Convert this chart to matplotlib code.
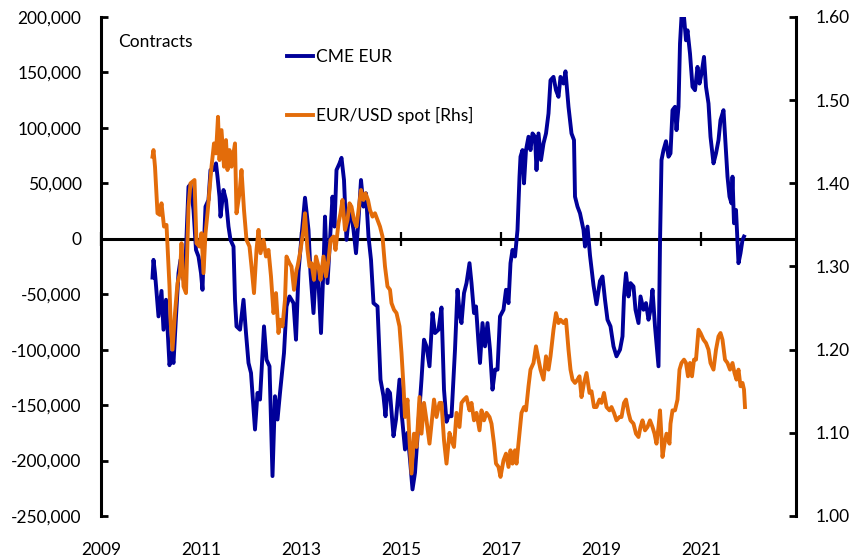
import matplotlib
matplotlib.use('Agg')
import matplotlib.pyplot as plt
from matplotlib import font_manager
from matplotlib.ticker import FuncFormatter, MultipleLocator

# CME EUR net positions (contracts)
cme_years = [2010.03, 2010.05, 2010.08, 2010.15, 2010.21, 2010.25, 2010.30, 2010.37, 2010.41, 2010.45,
             2010.50, 2010.55, 2010.59, 2010.65, 2010.70, 2010.75, 2010.79, 2010.85, 2010.90, 2010.95,
             2011.00, 2011.03, 2011.06, 2011.09, 2011.15, 2011.19, 2011.25, 2011.30, 2011.33, 2011.37,
             2011.39, 2011.45, 2011.50, 2011.55, 2011.59, 2011.65, 2011.68, 2011.71, 2011.78, 2011.85,
             2011.90, 2011.95, 2012.00, 2012.08, 2012.13, 2012.18, 2012.26, 2012.31, 2012.37, 2012.43,
             2012.48, 2012.53, 2012.58, 2012.66, 2012.71, 2012.77, 2012.85, 2012.90, 2012.95, 2013.01,
             2013.08, 2013.15, 2013.19, 2013.25, 2013.30, 2013.35, 2013.40, 2013.45, 2013.48, 2013.53,
             2013.58, 2013.63, 2013.67, 2013.71, 2013.77, 2013.81, 2013.86, 2013.91, 2013.98, 2014.05,
             2014.10, 2014.15, 2014.20, 2014.25, 2014.30, 2014.35, 2014.40, 2014.45, 2014.53, 2014.59,
             2014.65, 2014.69, 2014.73, 2014.78, 2014.85, 2014.90, 2014.97, 2015.01, 2015.08, 2015.13,
             2015.18, 2015.23, 2015.28, 2015.35, 2015.41, 2015.46, 2015.51, 2015.57, 2015.63, 2015.68,
             2015.75, 2015.81, 2015.86, 2015.91, 2015.95, 2016.01, 2016.08, 2016.13, 2016.18, 2016.21,
             2016.26, 2016.31, 2016.37, 2016.41, 2016.46, 2016.50, 2016.55, 2016.58, 2016.63, 2016.68,
             2016.73, 2016.78, 2016.83, 2016.88, 2016.93, 2016.98, 2017.05, 2017.10, 2017.15, 2017.19,
             2017.23, 2017.28, 2017.33, 2017.37, 2017.39, 2017.43, 2017.46, 2017.50, 2017.55, 2017.59,
             2017.63, 2017.68, 2017.71, 2017.75, 2017.80, 2017.85, 2017.90, 2017.95, 2017.99, 2018.05,
             2018.10, 2018.15, 2018.19, 2018.25, 2018.29, 2018.35, 2018.41, 2018.46, 2018.48, 2018.53,
             2018.58, 2018.65, 2018.68, 2018.73, 2018.78, 2018.85, 2018.91, 2018.98, 2019.03, 2019.08,
             2019.13, 2019.19, 2019.25, 2019.31, 2019.38, 2019.43, 2019.46, 2019.50, 2019.55, 2019.59,
             2019.65, 2019.69, 2019.75, 2019.79, 2019.85, 2019.90, 2019.95, 2019.99, 2020.03, 2020.08,
             2020.11, 2020.15, 2020.18, 2020.21, 2020.25, 2020.30, 2020.35, 2020.39, 2020.43, 2020.48,
             2020.51, 2020.55, 2020.58, 2020.61, 2020.66, 2020.70, 2020.73, 2020.78, 2020.83, 2020.88,
             2020.93, 2020.97, 2021.01, 2021.06, 2021.10, 2021.15, 2021.19, 2021.25, 2021.30, 2021.35,
             2021.39, 2021.45, 2021.49, 2021.53, 2021.57, 2021.61, 2021.63, 2021.66, 2021.70, 2021.73,
             2021.75, 2021.79, 2021.83, 2021.86]
cme_k = [-35, -19, -31, -70, -47, -82, -55, -114, -103, -112,
         -70, -31, -19, -37, -10, 47, 49, 26, -10, -16,
         -31, -46, -4, 29, 35, 62, 62, 68, 56, 38,
         20, 44, 35, 11, -1, -7, -55, -79, -82, -55,
         -85, -112, -121, -172, -139, -145, -79, -109, -115, -214,
         -142, -163, -139, -103, -61, -52, -58, -91, -30, 2,
         37, 8, -31, -67, -25, -40, -85, -25, 20, -40,
         -1, 38, 11, 62, 68, 73, 53, -1, 29, 8,
         -13, 17, 53, 29, 41, 2, -19, -58, -61, -127,
         -142, -160, -136, -139, -178, -163, -127, -156, -190, -175,
         -199, -226, -211, -166, -127, -91, -97, -115, -67, -85,
         -82, -62, -136, -165, -160, -160, -100, -46, -70, -76,
         -49, -40, -22, -40, -67, -61, -94, -112, -76, -97,
         -76, -100, -136, -118, -118, -70, -64, -46, -58, -22,
         -10, -16, 8, 56, 74, 80, 50, 80, 92, 80,
         95, 92, 62, 95, 71, 86, 95, 113, 143, 146,
         134, 128, 146, 140, 151, 119, 95, 89, 38, 29,
         23, 8, -7, 11, -15, -42, -59, -38, -34, -55,
         -73, -79, -97, -106, -100, -88, -52, -31, -52, -40,
         -43, -64, -76, -52, -64, -58, -73, -64, -46, -79,
         -94, -115, -4, 71, 80, 88, 74, 77, 116, 119,
         98, 119, 176, 200, 200, 179, 188, 167, 137, 134,
         155, 140, 149, 164, 137, 122, 92, 68, 77, 89,
         107, 116, 86, 56, 38, 32, 56, 14, 26, -4,
         -22, -13, -1, 2]
cme = [v * 1000 for v in cme_k]

# EUR/USD spot (right-hand scale)
fx_years = [2010.03, 2010.05, 2010.08, 2010.13, 2010.18, 2010.21, 2010.26, 2010.31, 2010.37, 2010.39,
            2010.43, 2010.48, 2010.53, 2010.58, 2010.61, 2010.65, 2010.70, 2010.75, 2010.79, 2010.87,
            2010.91, 2010.97, 2011.01, 2011.05, 2011.09, 2011.13, 2011.17, 2011.21, 2011.26, 2011.30,
            2011.34, 2011.37, 2011.41, 2011.46, 2011.50, 2011.53, 2011.57, 2011.61, 2011.68, 2011.71,
            2011.77, 2011.81, 2011.86, 2011.91, 2011.97, 2012.01, 2012.06, 2012.11, 2012.15, 2012.19,
            2012.25, 2012.30, 2012.35, 2012.40, 2012.45, 2012.50, 2012.55, 2012.58, 2012.63, 2012.68,
            2012.71, 2012.77, 2012.81, 2012.86, 2012.91, 2012.93, 2012.98, 2013.05, 2013.08, 2013.13,
            2013.17, 2013.21, 2013.26, 2013.30, 2013.35, 2013.39, 2013.45, 2013.50, 2013.55, 2013.59,
            2013.65, 2013.69, 2013.75, 2013.79, 2013.83, 2013.88, 2013.93, 2013.97, 2014.01, 2014.06,
            2014.11, 2014.16, 2014.20, 2014.25, 2014.29, 2014.34, 2014.38, 2014.43, 2014.48, 2014.53,
            2014.58, 2014.63, 2014.68, 2014.73, 2014.78, 2014.81, 2014.86, 2014.91, 2014.97, 2015.01,
            2015.05, 2015.08, 2015.13, 2015.17, 2015.21, 2015.26, 2015.31, 2015.37, 2015.41, 2015.46,
            2015.51, 2015.57, 2015.61, 2015.66, 2015.71, 2015.77, 2015.81, 2015.86, 2015.91, 2015.97,
            2016.01, 2016.06, 2016.11, 2016.17, 2016.21, 2016.26, 2016.31, 2016.37, 2016.41, 2016.46,
            2016.51, 2016.57, 2016.61, 2016.66, 2016.71, 2016.77, 2016.81, 2016.86, 2016.90, 2016.95,
            2016.99, 2017.05, 2017.10, 2017.15, 2017.19, 2017.23, 2017.28, 2017.31, 2017.37, 2017.41,
            2017.46, 2017.50, 2017.55, 2017.59, 2017.65, 2017.70, 2017.75, 2017.79, 2017.85, 2017.90,
            2017.95, 2017.99, 2018.05, 2018.10, 2018.15, 2018.19, 2018.25, 2018.30, 2018.35, 2018.39,
            2018.43, 2018.48, 2018.53, 2018.57, 2018.61, 2018.66, 2018.71, 2018.77, 2018.81, 2018.86,
            2018.91, 2018.97, 2019.01, 2019.06, 2019.11, 2019.17, 2019.21, 2019.26, 2019.31, 2019.37,
            2019.41, 2019.46, 2019.50, 2019.55, 2019.59, 2019.65, 2019.70, 2019.75, 2019.79, 2019.83,
            2019.88, 2019.93, 2019.98, 2020.03, 2020.07, 2020.11, 2020.15, 2020.18, 2020.21, 2020.23,
            2020.27, 2020.31, 2020.37, 2020.39, 2020.43, 2020.48, 2020.53, 2020.57, 2020.61, 2020.66,
            2020.70, 2020.74, 2020.78, 2020.82, 2020.86, 2020.90, 2020.95, 2020.99, 2021.05, 2021.10,
            2021.15, 2021.19, 2021.25, 2021.30, 2021.35, 2021.39, 2021.43, 2021.48, 2021.53, 2021.58,
            2021.63, 2021.67, 2021.71, 2021.75, 2021.79, 2021.83, 2021.86, 2021.88]
fx = [1.432, 1.440, 1.420, 1.364, 1.362, 1.376, 1.348, 1.350, 1.276, 1.236,
      1.200, 1.244, 1.280, 1.292, 1.328, 1.276, 1.268, 1.372, 1.400, 1.404,
      1.328, 1.324, 1.340, 1.292, 1.340, 1.364, 1.392, 1.420, 1.448, 1.436,
      1.480, 1.428, 1.464, 1.420, 1.452, 1.416, 1.440, 1.420, 1.448, 1.364,
      1.388, 1.416, 1.368, 1.332, 1.324, 1.300, 1.268, 1.320, 1.344, 1.316,
      1.332, 1.312, 1.320, 1.288, 1.244, 1.268, 1.220, 1.236, 1.228, 1.260,
      1.312, 1.304, 1.300, 1.272, 1.296, 1.300, 1.316, 1.344, 1.364, 1.320,
      1.300, 1.304, 1.284, 1.312, 1.300, 1.284, 1.312, 1.288, 1.308, 1.332,
      1.336, 1.320, 1.352, 1.364, 1.380, 1.344, 1.356, 1.376, 1.372, 1.356,
      1.348, 1.372, 1.392, 1.380, 1.388, 1.380, 1.368, 1.360, 1.364, 1.356,
      1.348, 1.336, 1.300, 1.276, 1.272, 1.256, 1.248, 1.244, 1.228, 1.196,
      1.156, 1.119, 1.140, 1.091, 1.051, 1.099, 1.083, 1.143, 1.099, 1.136,
      1.115, 1.087, 1.111, 1.140, 1.119, 1.136, 1.136, 1.091, 1.063, 1.100,
      1.091, 1.083, 1.124, 1.107, 1.136, 1.140, 1.143, 1.127, 1.136, 1.115,
      1.124, 1.103, 1.127, 1.115, 1.124, 1.119, 1.111, 1.087, 1.063, 1.059,
      1.047, 1.067, 1.075, 1.059, 1.079, 1.063, 1.079, 1.063, 1.099, 1.124,
      1.131, 1.127, 1.156, 1.176, 1.184, 1.204, 1.188, 1.176, 1.164, 1.192,
      1.176, 1.192, 1.224, 1.244, 1.232, 1.236, 1.232, 1.236, 1.200, 1.176,
      1.164, 1.160, 1.164, 1.168, 1.143, 1.160, 1.172, 1.148, 1.150, 1.131,
      1.131, 1.140, 1.136, 1.148, 1.131, 1.127, 1.131, 1.124, 1.115, 1.119,
      1.119, 1.136, 1.140, 1.124, 1.115, 1.111, 1.099, 1.095, 1.107, 1.115,
      1.103, 1.107, 1.115, 1.107, 1.099, 1.087, 1.107, 1.127, 1.095, 1.071,
      1.087, 1.099, 1.087, 1.111, 1.127, 1.127, 1.140, 1.176, 1.184, 1.188,
      1.184, 1.168, 1.184, 1.168, 1.188, 1.188, 1.224, 1.220, 1.212, 1.208,
      1.200, 1.184, 1.176, 1.200, 1.216, 1.220, 1.212, 1.188, 1.184, 1.176,
      1.184, 1.172, 1.164, 1.176, 1.156, 1.160, 1.152, 1.131]

year_ticks = [2009, 2011, 2013, 2015, 2017, 2019, 2021]

blue = '#000099'
orange = '#E36C0A'

names = {f.name for f in font_manager.fontManager.ttflist}
if 'Liberation Sans Narrow' in names:
    font, fs = 'Liberation Sans Narrow', 15
else:
    font, fs = 'Lato', 12.5
plt.rcParams['font.family'] = [font, 'DejaVu Sans']

fig = plt.figure(figsize=(8.52, 5.59), dpi=100)
ax = fig.add_axes([101 / 852, 43 / 559, 695 / 852, 499 / 559])
ax2 = ax.twinx()

ax.axhline(0, color='black', lw=2.2, zorder=1)
ax.plot(cme_years, cme, color=blue, lw=2.8, label='CME EUR', zorder=2)
ax2.plot(fx_years, fx, color=orange, lw=2.8, label='EUR/USD spot [Rhs]')

ax.set_xlim(2009, 2022.9)
ax.set_ylim(-250000, 200000)
ax2.set_ylim(1.0, 1.6)

ax.yaxis.set_major_locator(MultipleLocator(50000))
ax.yaxis.set_major_formatter(FuncFormatter(lambda v, p: '{:,.0f}'.format(v)))
ax2.yaxis.set_major_locator(MultipleLocator(0.1))
ax2.yaxis.set_major_formatter(FuncFormatter(lambda v, p: '{:.2f}'.format(v)))

for a in (ax, ax2):
    a.spines['top'].set_visible(False)
    a.spines['bottom'].set_visible(False)
    a.spines['left'].set_linewidth(2.2)
    a.spines['right'].set_linewidth(2.2)
ax.spines['right'].set_visible(False)
ax2.spines['left'].set_visible(False)

ax.tick_params(axis='y', direction='in', length=5, width=2, labelsize=fs, pad=14)
ax2.tick_params(axis='y', direction='in', length=5, width=2, labelsize=fs, pad=14)

ax.set_xticks(year_ticks)
ax.set_xticklabels([str(y) for y in year_ticks])
ax.tick_params(axis='x', length=0, labelsize=fs, pad=19)

# tick marks sitting on the zero line
zero_pos = (0 - ax.get_ylim()[0]) / (ax.get_ylim()[1] - ax.get_ylim()[0])
sec = ax.secondary_xaxis(zero_pos)
sec.spines['bottom'].set_visible(False)
sec.spines['top'].set_visible(False)
sec.set_xticks(year_ticks)
sec.tick_params(axis='x', direction='inout', length=10, width=1.6, labelbottom=False, labeltop=False)

ax.text(0.024, 0.95, 'Contracts', transform=ax.transAxes, fontsize=fs, va='center', ha='left')

h1, l1 = ax.get_legend_handles_labels()
h2, l2 = ax2.get_legend_handles_labels()
ax2.legend(h1 + h2, l1 + l2, loc='upper left', bbox_to_anchor=(0.267, 0.936), frameon=False,
           fontsize=fs, handlelength=1.5, handletextpad=0.2, labelspacing=2.4, borderpad=0,
           borderaxespad=0)

fig.savefig('out.png', dpi=100)
